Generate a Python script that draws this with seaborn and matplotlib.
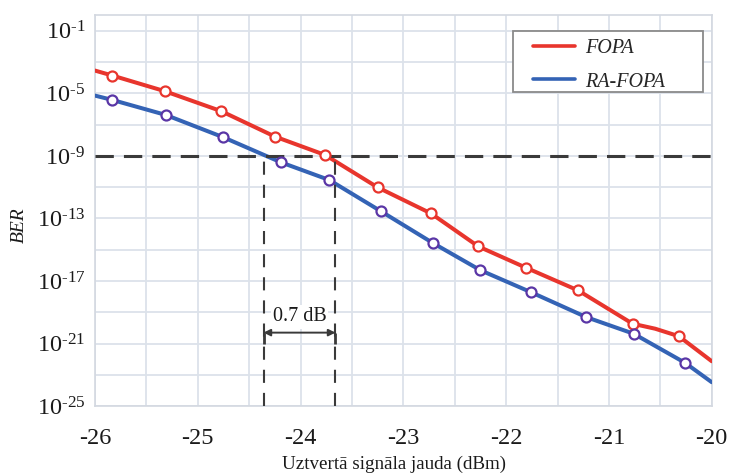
import numpy as np
import pandas as pd
import matplotlib
matplotlib.use("Agg")
import matplotlib.pyplot as plt
from matplotlib.patches import Rectangle
from matplotlib.ticker import FixedLocator, FuncFormatter, NullFormatter
import seaborn as sns

# Received signal power (dBm) and log10(BER) along each measured curve
fopa_power = [-26.0, -25.83, -25.32, -24.77, -24.25, -23.76, -23.25, -22.73,
              -22.27, -21.81, -21.30, -20.77, -20.55, -20.32, -20.0]
fopa_log_ber = [-3.54, -3.86, -4.86, -6.14, -7.76, -8.94, -11.01, -12.68,
                -14.79, -16.14, -17.60, -19.73, -20.05, -20.53, -22.13]
fopa_marked = [False, True, True, True, True, True, True, True,
               True, True, True, True, False, True, False]

rafopa_power = [-26.0, -25.83, -25.31, -24.75, -24.19, -23.72, -23.22, -22.71,
                -22.25, -21.76, -21.22, -20.76, -20.26, -20.0]
rafopa_log_ber = [-5.14, -5.42, -6.38, -7.81, -9.41, -10.54, -12.53, -14.58,
                  -16.31, -17.71, -19.31, -20.37, -22.23, -23.47]
rafopa_marked = [False, True, True, True, True, True, True, True,
                 True, True, True, True, True, False]

series_names = ["FOPA", "RA-FOPA"]
ber_threshold = 1e-9
rafopa_cross = -24.36      # RA-FOPA power at the BER threshold
penalty_db = 0.7           # power penalty between the two curves
x_ticks = [-26, -25, -24, -23, -22, -21, -20]
y_tick_exponents = [-1, -5, -9, -13, -17, -21, -25]
y_minor_exponents = [-3, -7, -11, -15, -19, -23]

red = "#E8352D"
blue = "#3463B5"
blue_edge = "#5A36A6"
dash_color = "#3A3A3A"
grid_color = "#DCE2EA"
text_color = "#1A1A1A"

df = pd.DataFrame({
    "power": fopa_power + rafopa_power,
    "ber": np.power(10.0, fopa_log_ber + rafopa_log_ber),
    "marked": fopa_marked + rafopa_marked,
    "series": [series_names[0]] * len(fopa_power) + [series_names[1]] * len(rafopa_power),
})

sns.set_theme(style="whitegrid")
plt.rcParams["font.family"] = ["Liberation Serif", "DejaVu Serif"]
plt.rcParams["mathtext.fontset"] = "stix"

fig = plt.figure(figsize=(7.3, 4.75), dpi=100)
ax = fig.add_axes([0.130, 0.145, 0.845, 0.823])

sns.lineplot(data=df, x="power", y="ber", hue="series", palette=[red, blue],
             sort=False, estimator=None, linewidth=2.9, ax=ax, zorder=3)

for name, edge in zip(series_names, [red, blue_edge]):
    pts = df[(df["series"] == name) & df["marked"]]
    sns.scatterplot(data=pts, x="power", y="ber", color="white", edgecolor=edge,
                    linewidth=1.6, s=52, legend=False, ax=ax, zorder=5)

ax.set_yscale("log")
ax.set_xlim(-26, -20)
ax.set_ylim(1e-25, 1)

# BER threshold and the two crossing powers
ax.axhline(ber_threshold, color=dash_color, lw=2.2, ls=(0, (6, 3.3)), zorder=4)
fopa_cross = rafopa_cross + penalty_db
ax.vlines([rafopa_cross, fopa_cross], 1e-25, ber_threshold, colors=dash_color,
          lw=1.5, linestyles=[(0, (6.3, 4.8))], zorder=4)

arrow_y = 10.0 ** -20.3
ax.vlines([rafopa_cross, fopa_cross], 10.0 ** -21.0, arrow_y, colors=dash_color,
          lw=2.0, zorder=4)
ax.annotate("", xy=(fopa_cross, arrow_y), xytext=(rafopa_cross, arrow_y),
            arrowprops=dict(arrowstyle="<|-|>", color=dash_color, lw=1.4,
                            shrinkA=0, shrinkB=0, mutation_scale=10), zorder=4)
ax.text((rafopa_cross + fopa_cross) / 2, 10.0 ** -19.3, f"{penalty_db} dB",
        ha="center", va="center", fontsize=14.5, color=text_color,
        bbox=dict(facecolor="white", edgecolor="none", pad=1.5), zorder=6)

ax.xaxis.set_major_locator(FixedLocator(x_ticks))
ax.xaxis.set_minor_locator(FixedLocator(np.arange(-25.5, -20, 1.0)))
ax.set_xticklabels([f"{t}" for t in x_ticks])
ax.yaxis.set_major_locator(FixedLocator([10.0 ** e for e in y_tick_exponents]))
ax.yaxis.set_minor_locator(FixedLocator([10.0 ** e for e in y_minor_exponents]))
ax.yaxis.set_major_formatter(FuncFormatter(
    lambda v, _: "$\\mathregular{10^{\u2010%d}}$" % abs(round(np.log10(v)))))
ax.yaxis.set_minor_formatter(NullFormatter())

ax.grid(which="both", color=grid_color, lw=1.3)
ax.tick_params(which="both", length=0)
ax.tick_params(axis="x", labelsize=17.5, pad=16, colors=text_color)
ax.tick_params(axis="y", labelsize=17.5, pad=7, colors=text_color)
for sp in ax.spines.values():
    sp.set_color("#D3D8E0")
    sp.set_linewidth(1.2)

ax.set_xlabel("Uztvertā signāla jauda (dBm)", fontsize=13.7, color=text_color)
ax.xaxis.set_label_coords(0.485, -0.127)
ax.set_ylabel("BER", fontsize=14, style="italic", color=text_color)
ax.yaxis.set_label_coords(-0.108, 0.463)

# Legend: frame drawn as a plain box, entries placed inside it
ax.add_patch(Rectangle((0.6775, 0.803), 0.308, 0.156, transform=ax.transAxes,
                       facecolor="white", edgecolor="#8A8A8A", lw=1.3, zorder=6))
leg = ax.legend(loc="upper left", bbox_to_anchor=(0.700, 0.955), frameon=False,
                prop={"family": "Liberation Serif", "style": "italic", "size": 14.5},
                handlelength=2.1, handletextpad=0.5, borderpad=0.3,
                labelspacing=0.72, borderaxespad=0)
leg.set_zorder(7)
for line in leg.get_lines():
    line.set_linewidth(2.6)

fig.savefig("out.png", dpi=100)
